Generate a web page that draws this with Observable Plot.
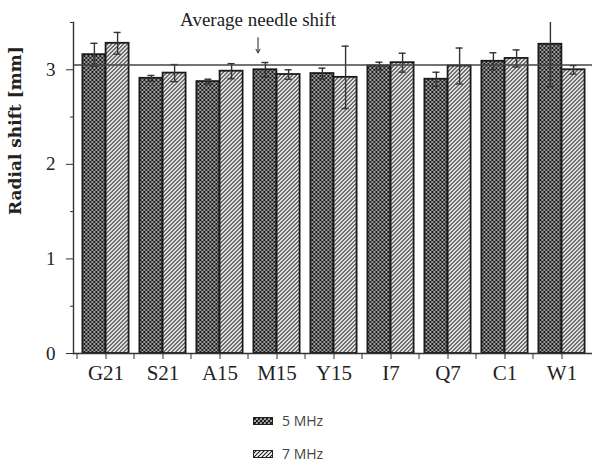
<!DOCTYPE html>
<html><head><meta charset="utf-8">
<script src="https://cdn.jsdelivr.net/npm/d3@7"></script>
<script src="https://cdn.jsdelivr.net/npm/@observablehq/plot@0.6"></script>
<style>
body{margin:0;background:#fff;}
#chart{width:592px;position:relative;}
.legend{font-family:"Open Sans",sans-serif;font-size:14px;color:#444;padding-left:253px;padding-top:9px;}
.legend .item{display:flex;align-items:center;height:33px;}
.legend svg{margin-right:9px;}
</style></head><body><div id="chart"></div><script>
const categories = ["G21","S21","A15","M15","Y15","I7","Q7","C1","W1"];
const series = ["5 MHz","7 MHz"];
const values5 = [3.16,2.91,2.875,3.0,2.96,3.04,2.90,3.09,3.27];
const errors5 = [0.12,0.03,0.025,0.077,0.057,0.04,0.074,0.09,0.45];
const values7 = [3.28,2.965,2.985,2.95,2.92,3.075,3.04,3.12,3.0];
const errors7 = [0.115,0.09,0.08,0.05,0.33,0.1,0.19,0.09,0.045];
const average = 3.05;
const majorTicks = [0,1,2,3];
const minorTicks = [0.5,1.5,2.5,3.5];
const yLabel = "Radial shift [mm]";
const annotation = "Average needle shift";
const annotationCategory = "M15";
const annotationY = 3.46, arrowTop = 3.34, arrowBottom = 3.18;

const seriesValues = [values5, values7];
const seriesErrors = [errors5, errors7];
const fills = ["url(#xhatch)","url(#diag)"];
const offsets = [-11.6, 11.6];

const serif = "Liberation Serif";
const marks = [];
series.forEach((s, k) => {
  const rows = categories.map((c, i) => ({category: c, series: s, value: seriesValues[k][i], error: seriesErrors[k][i]}));
  marks.push(Plot.barY(rows, {x: "category", y: "value", fill: fills[k], stroke: "#1a1a1a", strokeWidth: 1.8, dx: offsets[k]}));
  marks.push(Plot.ruleX(rows, {x: "category", y1: d => d.value - d.error, y2: d => d.value + d.error, stroke: "#333", strokeWidth: 1.4, dx: offsets[k], clip: true}));
  marks.push(Plot.tickY(rows, {x: "category", y: d => d.value + d.error, stroke: "#333", strokeWidth: 1.4, dx: offsets[k], insetLeft: 8, insetRight: 8, clip: true}));
  marks.push(Plot.tickY(rows, {x: "category", y: d => d.value - d.error, stroke: "#333", strokeWidth: 1.4, dx: offsets[k], insetLeft: 8, insetRight: 8}));
});

const chart = Plot.plot({
  width: 592, height: 395,
  marginLeft: 73, marginRight: 0, marginTop: 22, marginBottom: 42,
  style: {fontFamily: serif, color: "#222", background: "#fff"},
  x: {type: "band", domain: categories, range: [73, 594], paddingInner: 0.6, paddingOuter: 0.3, axis: null},
  y: {domain: [0, 3.5], axis: null},
  marks: [
    ...marks,
    Plot.ruleY([average], {stroke: "#444", strokeWidth: 1.4}),
    Plot.ruleY([0], {stroke: "#333", strokeWidth: 1.4}),
    Plot.frame({anchor: "left", stroke: "#333", strokeWidth: 1.4}),
    Plot.axisY({ticks: majorTicks, tickSize: 7, tickPadding: 11, tickFormat: "d", fontSize: 19, label: null, stroke: "#333"}),
    Plot.axisY({ticks: minorTicks, tickSize: 3, tickFormat: () => "", label: null, stroke: "#333"}),
    Plot.axisX({tickSize: 6, tickPadding: 6, fontSize: 21, label: null, stroke: "#333"}),
    Plot.axisX({tickSize: 6, tickFormat: () => "", label: null, dx: -29, stroke: "#333"}),
    Plot.text([yLabel], {frameAnchor: "left", rotate: -90, dx: -58, dy: 27, fontSize: 17, fontFamily: "DejaVu Serif", fontWeight: "bold", fill: "#222"}),
    Plot.text([annotation], {x: () => annotationCategory, y: () => annotationY, text: d => d, dx: -19, lineAnchor: "bottom", fontSize: 19, fill: "#222"}),
    Plot.arrow([annotationCategory], {x1: d => d, x2: d => d, y1: () => arrowTop, y2: () => arrowBottom, dx: -19, headLength: 6, stroke: "#222", strokeWidth: 1})
  ]
});

d3.select(chart).insert("defs", ":first-child").html(`
  <pattern id="xhatch" patternUnits="userSpaceOnUse" width="4" height="4">
    <rect width="4" height="4" fill="#fff"/>
    <path d="M0,0L4,4M4,0L0,4M-1,3L1,5M3,-1L5,1M-1,1L1,-1M3,5L5,3" stroke="#1a1a1a" stroke-width="1.25"/>
  </pattern>
  <pattern id="diag" patternUnits="userSpaceOnUse" width="4" height="4">
    <rect width="4" height="4" fill="#fff"/>
    <path d="M-1,1L1,-1M0,4L4,0M3,5L5,3" stroke="#1a1a1a" stroke-width="1.1"/>
  </pattern>`);

const root = document.getElementById("chart");
root.appendChild(chart);
const legend = document.createElement("div");
legend.className = "legend";
series.forEach((s, k) => {
  const item = document.createElement("div");
  item.className = "item";
  item.innerHTML = `<svg width="20" height="8"><rect x="0.5" y="0.5" width="19" height="7" fill="${fills[k]}" stroke="#222" stroke-width="1"/></svg><span>${s}</span>`;
  legend.appendChild(item);
});
root.appendChild(legend);
</script></body></html>
